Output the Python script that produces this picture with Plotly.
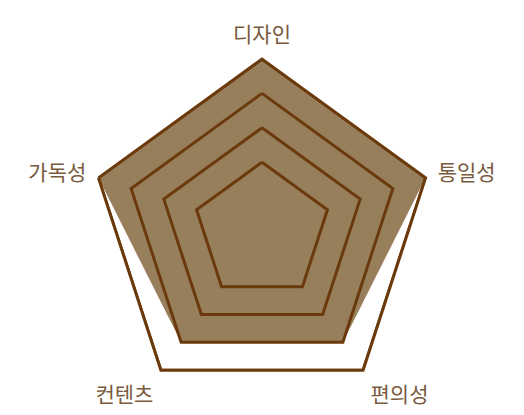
import plotly.graph_objects as go

categories = ["디자인", "통일성", "편의성", "컨텐츠", "가독성"]
values = [5, 5, 4, 4, 5]
grid_levels = [2, 3, 4, 5]
r_max = 5

fill_color = "#977f5c"
line_color = "#6b3a0c"
label_color = "#7a5a3e"

fig = go.Figure()

cats_closed = categories + [categories[0]]

fig.add_trace(go.Scatterpolar(
    r=values + [values[0]],
    theta=cats_closed,
    mode="lines",
    fill="toself",
    fillcolor=fill_color,
    line=dict(color="rgba(0,0,0,0)", width=0),
    hoverinfo="skip",
    showlegend=False,
))

for lvl in grid_levels:
    fig.add_trace(go.Scatterpolar(
        r=[lvl] * len(cats_closed),
        theta=cats_closed,
        mode="lines",
        line=dict(color=line_color, width=3),
        cliponaxis=False,
        hoverinfo="skip",
        showlegend=False,
    ))

fig.update_layout(
    width=524,
    height=415,
    margin=dict(l=0, r=16, t=51, b=20),
    paper_bgcolor="white",
    plot_bgcolor="white",
    font=dict(family="Noto Sans CJK KR", size=21, color=label_color),
    polar=dict(
        bgcolor="white",
        gridshape="linear",
        radialaxis=dict(
            range=[0, r_max],
            showgrid=False,
            showline=False,
            showticklabels=False,
            ticks="",
        ),
        angularaxis=dict(
            direction="clockwise",
            rotation=90,
            showgrid=False,
            showline=True,
            linecolor=line_color,
            linewidth=3,
            ticks="outside",
            ticklen=7,
            tickcolor="rgba(0,0,0,0)",
            tickfont=dict(family="Noto Sans CJK KR", size=21, color=label_color),
        ),
    ),
)

fig.write_html("out.html")
